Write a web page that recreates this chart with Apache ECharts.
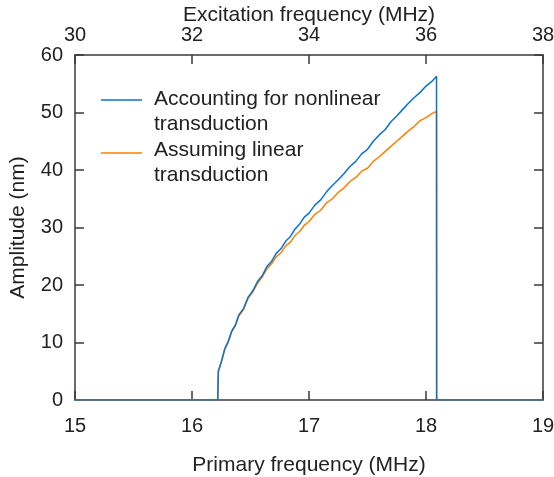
<!DOCTYPE html>
<html>
<head>
<meta charset="utf-8">
<script src="https://cdn.jsdelivr.net/npm/echarts@6/dist/echarts.min.js"></script>
<style>
  html, body { margin: 0; padding: 0; background: #fff; }
  #chart { width: 554px; height: 477px; }
</style>
</head>
<body>
<div id="chart"></div>
<script>
// primary frequency (MHz)
const freq = [15.00, 16.22, 16.225, 16.25, 16.28, 16.31, 16.34, 16.37, 16.40, 16.44,
  16.48, 16.52, 16.56, 16.60, 16.64, 16.68, 16.72, 16.76, 16.80, 16.84,
  16.88, 16.92, 16.96, 17.00, 17.05, 17.10, 17.15, 17.20, 17.25, 17.30,
  17.35, 17.40, 17.45, 17.50, 17.55, 17.60, 17.65, 17.70, 17.75, 17.80,
  17.85, 17.90, 17.95, 18.00, 18.05, 18.09, 18.091, 19.00]

// amplitude (nm), accounting for nonlinear transduction
const ampNonlinear = [0, 0, 5.0, 6.6, 8.9, 10.2, 12.0, 13.0, 14.8, 15.9,
  17.9, 19.0, 20.6, 21.6, 23.2, 24.1, 25.5, 26.3, 27.6, 28.4,
  29.7, 30.6, 31.8, 32.5, 33.9, 34.8, 36.2, 37.3, 38.3, 39.4,
  40.6, 41.5, 42.8, 43.6, 45.0, 46.1, 47.0, 48.4, 49.4, 50.5,
  51.6, 52.6, 53.5, 54.6, 55.4, 56.3, 0, 0]

// amplitude (nm), assuming linear transduction
const ampLinear = [0, 0, 5.0, 6.5, 8.8, 10.1, 11.9, 12.9, 14.6, 15.7,
  17.7, 18.8, 20.3, 21.4, 22.8, 23.7, 24.9, 25.6, 26.8, 27.4,
  28.6, 29.3, 30.4, 31.0, 32.3, 33.0, 34.3, 35.0, 36.1, 36.9,
  38.0, 38.7, 39.8, 40.3, 41.5, 42.3, 43.2, 44.1, 45.0, 45.9,
  46.8, 47.6, 48.6, 49.1, 49.8, 50.2, 0, 0]

const primaryTicks = [15, 19, 1]
const excitationTicks = [30, 38, 2]
const ampTicks = [0, 60, 10]

const names = ['Accounting for nonlinear\ntransduction', 'Assuming linear\ntransduction']
const colors = ['#0a72d2', '#ff8000']

const font = 'Liberation Sans, Arial, sans-serif'
const axisColor = '#3a3a3a'
const textColor = '#222'

function pairs (ys) {
  return freq.map((f, i) => [f, ys[i]])
}

function axisCommon () {
  return {
    nameMoveOverlap: false,
    axisLine: { show: true, onZero: false, lineStyle: { color: axisColor, width: 1.5 } },
    axisTick: { show: true, inside: true, length: 9, lineStyle: { color: axisColor, width: 1.5 } },
    splitLine: { show: false },
    axisLabel: { fontFamily: font, fontSize: 20, color: textColor },
    nameTextStyle: { fontFamily: font, fontSize: 21, color: textColor }
  }
}

const chart = echarts.init(document.getElementById('chart'))
const option = {
  animation: false,
  grid: { left: 75, right: 11, top: 55, bottom: 77, containLabel: false, outerBoundsMode: 'none' },
  xAxis: [
    Object.assign(axisCommon(), {
      type: 'value',
      position: 'bottom',
      min: primaryTicks[0],
      max: primaryTicks[1],
      interval: primaryTicks[2],
      name: 'Primary frequency (MHz)',
      nameLocation: 'middle',
      nameGap: 55
    }),
    Object.assign(axisCommon(), {
      type: 'value',
      position: 'top',
      min: excitationTicks[0],
      max: excitationTicks[1],
      interval: excitationTicks[2],
      name: 'Excitation frequency (MHz)',
      nameLocation: 'middle',
      nameGap: 29
    })
  ],
  yAxis: [
    Object.assign(axisCommon(), {
      type: 'value',
      position: 'left',
      min: ampTicks[0],
      max: ampTicks[1],
      interval: ampTicks[2],
      name: 'Amplitude (nm)',
      nameLocation: 'middle',
      nameGap: 46
    }),
    Object.assign(axisCommon(), {
      type: 'value',
      position: 'right',
      min: ampTicks[0],
      max: ampTicks[1],
      interval: ampTicks[2],
      axisLabel: { show: false }
    })
  ],
  series: [
    {
      name: names[1],
      type: 'line',
      data: pairs(ampLinear),
      showSymbol: false,
      lineStyle: { color: colors[1], width: 1.5 },
      itemStyle: { color: colors[1] }
    },
    {
      name: names[0],
      type: 'line',
      data: pairs(ampNonlinear),
      showSymbol: false,
      lineStyle: { color: colors[0], width: 1.5 },
      itemStyle: { color: colors[0] }
    }
  ],
  graphic: [
    { type: 'line', shape: { x1: 101, y1: 100, x2: 142, y2: 100 }, style: { stroke: colors[0], lineWidth: 1.5 } },
    { type: 'text', left: 154, top: 87, style: { text: names[0], font: '21px ' + font, fill: textColor, lineHeight: 25 } },
    { type: 'line', shape: { x1: 101, y1: 153, x2: 142, y2: 153 }, style: { stroke: colors[1], lineWidth: 1.5 } },
    { type: 'text', left: 154, top: 138, style: { text: names[1], font: '21px ' + font, fill: textColor, lineHeight: 25 } }
  ]
}
chart.setOption(option)
// label margins differ between the two x axes
chart.setOption({
  xAxis: [{ axisLabel: { margin: 16 } }, { axisLabel: { margin: 10 } }],
  yAxis: [{ axisLabel: { margin: 12 } }, {}]
})
</script>
</body>
</html>
